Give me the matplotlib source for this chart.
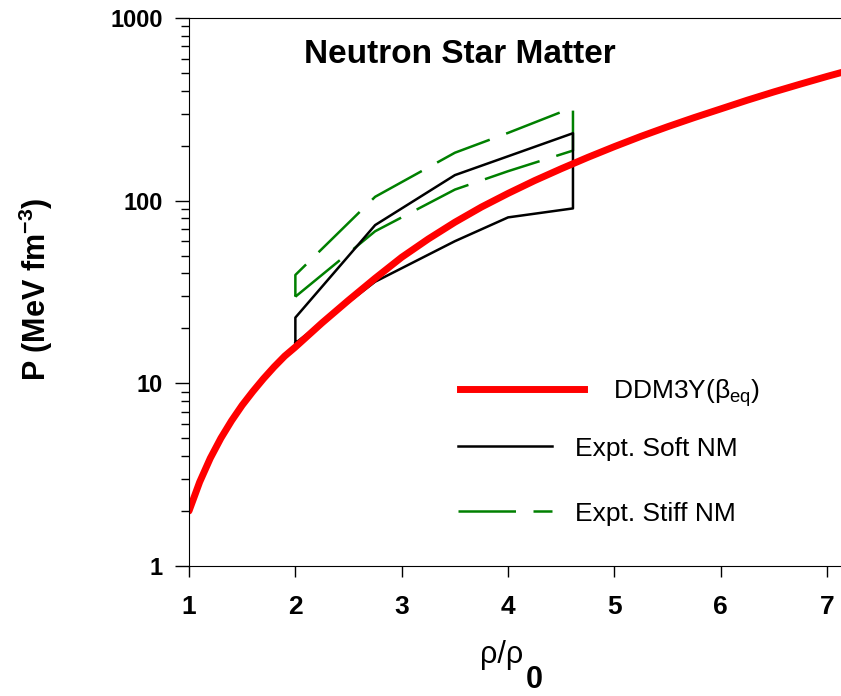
import numpy as np
import matplotlib
matplotlib.use("Agg")
import matplotlib.pyplot as plt
from matplotlib.ticker import LogLocator, FixedLocator, NullFormatter

plt.rcParams['font.family'] = ['Liberation Sans', 'DejaVu Sans']
plt.rcParams['mathtext.fontset'] = 'custom'
plt.rcParams['mathtext.rm'] = 'Liberation Sans'
plt.rcParams['mathtext.it'] = 'Liberation Sans'
plt.rcParams['mathtext.bf'] = 'Liberation Sans:bold'

# DDM3Y pressure of beta-equilibrated neutron star matter
rho_ddm3y = [1.0, 1.1, 1.2, 1.3, 1.4, 1.5, 1.6, 1.7, 1.8, 1.9, 2.0, 2.25, 2.5, 2.75,
             3.0, 3.25, 3.5, 3.75, 4.0, 4.25, 4.5, 4.75, 5.0, 5.25, 5.5, 5.75, 6.0,
             6.25, 6.5, 6.75, 7.0, 7.25]
p_ddm3y = [2.0, 2.88, 3.89, 5.01, 6.24, 7.59, 9.02, 10.6, 12.3, 14.1, 15.8, 21.4,
           28.5, 37.6, 49.0, 61.7, 76.2, 92.3, 109.6, 128.8, 149.6, 172.6, 197.7,
           225, 254, 285, 318, 355, 394, 435, 479, 525]

# experimental flow constraints (bands)
rho_expt = [2.0, 2.75, 3.5, 4.0, 4.61]
soft_lower = [16.6, 36, 60, 81, 90.7]
soft_upper = [22.9, 73.5, 138, 175, 234]
stiff_lower = [29.8, 68, 115, 145, 188]
stiff_upper = [39.2, 105, 183, 235, 324]

def band(lower, upper):
    x = rho_expt + rho_expt[::-1] + [rho_expt[0]]
    y = lower + upper[::-1] + [lower[0]]
    return x, y

green = '#008000'
dash = (0, (23, 7))

fig = plt.figure(figsize=(8.41, 6.96), dpi=100)
ax = fig.add_axes([189/841, 1 - 566/696, 1 - 189/841, 548/696])

xs, ys = band(stiff_lower, stiff_upper)
ax.plot(xs, ys, color=green, lw=1.8, linestyle=dash)
xs, ys = band(soft_lower, soft_upper)
ax.plot(xs, ys, color='black', lw=1.8)
ax.plot(rho_ddm3y, p_ddm3y, color='#ff0000', lw=5, solid_capstyle='round',
        solid_joinstyle='round')

ax.set_yscale('log')
ax.set_xlim(1, 7.13)
ax.set_ylim(1, 1000)

ax.yaxis.set_major_locator(FixedLocator([1, 10, 100, 1000]))
ax.yaxis.set_minor_locator(LogLocator(base=10, subs=np.arange(2, 10)))
ax.yaxis.set_minor_formatter(NullFormatter())
ax.set_yticklabels(['1', '10', '100', '1000'])
ax.set_xticks([1, 2, 3, 4, 5, 6, 7])
ax.tick_params(axis='y', which='major', direction='out', length=10, width=1, pad=9,
               labelsize=17)
ax.tick_params(axis='y', which='minor', direction='out', length=6, width=1)
ax.tick_params(axis='x', which='major', direction='out', length=8, width=1, pad=13,
               labelsize=19)
for lab in ax.get_xticklabels() + ax.get_yticklabels():
    lab.set_fontweight('bold')
ax.spines['right'].set_visible(False)

ax.set_ylabel(r'P (MeV fm$^{\mathbf{-3}}$)', fontsize=22, fontweight='bold')
ax.yaxis.set_label_coords(-0.205, 0.505)

# x label: rho/rho_0 with a large bold subscript
fig.text(480/841, (696 - 663)/696, 'ρ/ρ', fontsize=22, ha='left', va='baseline')
fig.text(526/841, (696 - 688)/696, '0', fontsize=22, fontweight='bold',
         ha='left', va='baseline')

ax.text(0.4156, 0.934, 'Neutron Star Matter', transform=ax.transAxes, fontsize=24,
        fontweight='bold', ha='center', va='center')

# legend: DDM3Y entry has a longer line than the two experimental ones
h_red, = ax.plot([], [], color='#ff0000', lw=5)
h_soft, = ax.plot([], [], color='black', lw=1.8)
h_stiff, = ax.plot([], [], color=green, lw=1.8, linestyle=dash)
leg1 = ax.legend([h_red], [r'DDM3Y($\beta_{\mathrm{eq}}$)'], loc='center left',
                 bbox_to_anchor=(0.4156, 0.316), frameon=False, fontsize=19,
                 handlelength=4.7, handletextpad=1.1, borderpad=0, borderaxespad=0)
ax.add_artist(leg1)
ax.legend([h_soft, h_stiff], ['Expt. Soft NM', 'Expt. Stiff NM'], loc='center left',
          bbox_to_anchor=(0.4126, 0.155), frameon=False, fontsize=19,
          handlelength=3.55, handletextpad=0.9, labelspacing=1.55,
          borderpad=0, borderaxespad=0)

fig.savefig('out.png', dpi=100)
